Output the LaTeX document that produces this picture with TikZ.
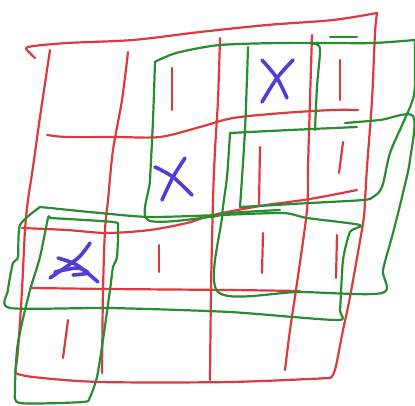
\documentclass[tikz,border=0pt]{standalone}
\begin{document}
\begin{tikzpicture}[x=1pt,y=-1pt,line cap=round,line join=round,
  redline/.style={draw={rgb,255:red,222;green,58;blue,62},line width=2.2pt},
  greenline/.style={draw={rgb,255:red,42;green,140;blue,48},line width=2.2pt},
  blueline/.style={draw={rgb,255:red,82;green,60;blue,215},line width=3.6pt},
  sm/.style={smooth,tension=0.5}]
\useasboundingbox (0,0) rectangle (415,405);
% ---- red grid ----
\draw[redline] plot[sm] coordinates {(35,58) (30,53) (28,47) (67,43) (133,40) (200,32) (267,25) (333,20) (377,13)};
\draw[redline] plot[sm] coordinates {(377,13) (375,33) (372,100) (367,167) (365,200) (363,223) (350,297) (343,330) (335,370) (330,378)};
\draw[redline] plot[sm] coordinates {(50,50) (40,117) (33,167) (28,200) (25,230) (22,290) (18,350) (15,373)};
\draw[redline] plot[sm] coordinates {(15,373) (33,377) (100,382) (230,382) (330,378)};
\draw[redline] plot[sm] coordinates {(128,52) (122,100) (113,150) (108,200) (105,230) (103,290) (102,373)};
\draw[redline] plot[sm] coordinates {(220,38) (218,100) (215,150) (213,200) (211,290) (210,380)};
\draw[redline] plot[sm] coordinates {(312,35) (310,100) (308,167) (307,210) (297,283) (290,330) (285,370)};
\draw[redline] plot[sm] coordinates {(47,135) (67,137) (117,137) (160,137) (200,127) (233,118) (283,113) (333,110) (358,110)};
\draw[redline] plot[sm] coordinates {(22,228) (67,230) (107,233) (150,230) (187,223) (213,215) (260,206) (310,199) (357,190)};
\draw[redline] plot[sm] coordinates {(32,288) (110,289) (230,290) (300,291)};
% tallies
\draw[redline] (172,68) -- (172,110);
\draw[redline] (340,60) -- (340,100);
\draw[redline] (260,147) -- (259,205);
\draw[redline] (343,142) -- (339,173);
\draw[redline] (159,245) -- (159,272);
\draw[redline] (263,233) -- (262,273);
\draw[redline] (337,235) -- (336,278);
\draw[redline] (68,320) -- (63,358);
% ---- green loops ----
\draw[greenline] plot[sm] coordinates {(155,62) (163,58) (180,52) (220,45) (280,43) (330,43) (373,43) (415,40)};
\draw[greenline] plot[sm] coordinates {(415,40) (415,60) (414,95) (403,123) (390,153) (382,187) (373,197) (363,200) (310,203) (240,207)};
\draw[greenline] plot[sm] coordinates {(155,62) (153,120) (150,180) (148,220) (210,217) (230,213) (280,210)};
\draw[greenline] plot[sm] coordinates {(248,47) (245,130) (240,207)};
\draw[greenline] plot[sm] coordinates {(310,43) (318,45) (320,52) (317,87) (315,130)};
\draw[greenline] (330,37) -- (357,37);
% G3
\draw[greenline] plot[sm] coordinates {(230,133) (290,130) (357,127)};
\draw[greenline] plot[sm] coordinates {(345,123) (380,120) (413,116) (410,160) (403,193) (393,233) (383,270) (382,293) (300,292) (218,292) (222,217) (227,177) (230,133)};
% G4 (row 3)
\draw[greenline] plot[sm,tension=0.4] coordinates {(40,207) (100,213) (150,217) (220,215) (283,213) (307,218) (360,225) (350,232) (343,260) (340,310) (337,320) (230,312) (110,308) (10,308) (8,290) (13,263) (18,257) (20,225) (40,207)};
% G5 (column 1)
\draw[greenline] plot[sm,tension=0.4] coordinates {(50,218) (113,222) (118,227) (117,257) (113,267) (110,290) (103,340) (97,377) (90,397) (83,402) (20,403) (15,390) (17,350) (22,323) (30,290) (40,257) (48,218) (50,218)};
% ---- blue X marks ----
\draw[blueline] plot[sm] coordinates {(262,60) (277,78) (287,98)};
\draw[blueline] plot[sm] coordinates {(293,60) (277,78) (262,102)};
\draw[blueline] plot[sm] coordinates {(155,167) (173,177) (192,195)};
\draw[blueline] plot[sm] coordinates {(185,158) (173,177) (162,200)};
\draw[blueline] plot[sm] coordinates {(58,258) (77,265) (98,282)};
\draw[blueline] plot[sm] coordinates {(90,243) (78,258) (50,278)};
\draw[blueline] plot[sm] coordinates {(55,272) (77,268) (88,273) (73,275)};
\end{tikzpicture}
\end{document}
